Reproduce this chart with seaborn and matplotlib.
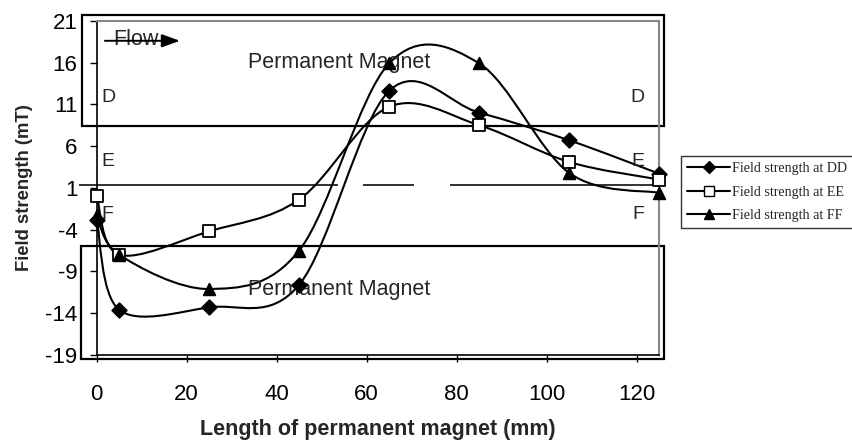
import numpy as np
import pandas as pd
import matplotlib
matplotlib.use("Agg")
import matplotlib.pyplot as plt
import seaborn as sns
from matplotlib.path import Path
from matplotlib.patches import PathPatch, Rectangle
from matplotlib.lines import Line2D

# ----------------------------------------------------------
# Data
# ----------------------------------------------------------
length_mm = [0, 5, 25, 45, 65, 85, 105, 125]
field_dd = [-2.8, -13.6, -13.3, -10.6, 12.6, 10.0, 6.7, 2.7]
field_ee = [0.0, -7.0, -4.2, -0.4, 10.7, 8.5, 4.1, 2.0]
field_ff = [-2.2, -7.0, -11.1, -6.5, 15.9, 15.9, 2.8, 0.4]
series_names = ["Field strength at DD", "Field strength at EE", "Field strength at FF"]

df = pd.DataFrame({
    "length": length_mm * 3,
    "field": field_dd + field_ee + field_ff,
    "series": np.repeat(series_names, len(length_mm)),
})

sns.set_style("white")
plt.rcParams["font.family"] = ["Liberation Sans", "DejaVu Sans"]
plt.rcParams["axes.unicode_minus"] = False

fig = plt.figure(figsize=(8.53, 4.41), dpi=100)
ax = fig.add_axes([0.1134, 0.195, 0.6592, 0.758])


# Excel-style smoothed line: cubic bezier through the points
def smooth_path(xs, ys):
    pts = np.column_stack([xs, ys]).astype(float)
    n = len(pts)
    verts = [pts[0]]
    codes = [Path.MOVETO]
    for i in range(n - 1):
        p0 = pts[max(i - 1, 0)]
        p1 = pts[i]
        p2 = pts[i + 1]
        p3 = pts[min(i + 2, n - 1)]
        c1 = p1 + (p2 - p0) / 6.0
        c2 = p2 - (p3 - p1) / 6.0
        verts += [c1, c2, p2]
        codes += [Path.CURVE4] * 3
    return Path(verts, codes)


for vals in [field_dd, field_ee, field_ff]:
    ax.add_patch(PathPatch(smooth_path(length_mm, vals), facecolor="none",
                           edgecolor="black", lw=1.5, zorder=3))

markers = {series_names[0]: "D", series_names[1]: "s", series_names[2]: "^"}
for name, m in markers.items():
    sub = df[df["series"] == name]
    face = "white" if m == "s" else "black"
    sns.scatterplot(data=sub, x="length", y="field", marker=m, s=70 if m != "D" else 55,
                    color=face, edgecolor="black", linewidth=1.3, ax=ax, zorder=4,
                    clip_on=False, legend=False)

# ----------------------------------------------------------
# Magnet boxes, region line and annotations
# ----------------------------------------------------------
ax.add_patch(Rectangle((-3.3, 8.4), 129.5, 13.3, fill=False, lw=1.6,
                       edgecolor="black", clip_on=False, zorder=2))
ax.add_patch(Rectangle((-3.6, -19.5), 129.8, 13.5, fill=False, lw=1.6,
                       edgecolor="black", clip_on=False, zorder=2))
ax.hlines([1.3, 1.3, 1.3], [-3.9, 59.2, 78.5], [53.6, 70.5, 125],
          colors="#222222", lw=1.3, clip_on=False, zorder=2)

ax.text(33.6, 16.0, "Permanent Magnet", ha="left", va="center", fontsize=15.5)
ax.text(33.6, -11.2, "Permanent Magnet", ha="left", va="center", fontsize=15.5)
for yy, s in [(11.8, "D"), (4.1, "E"), (-2.2, "F")]:
    ax.text(1.0, yy, s, ha="left", va="center", fontsize=14)
    ax.text(121.8, yy, s, ha="right", va="center", fontsize=14)
ax.text(3.6, 18.8, "Flow", ha="left", va="center", fontsize=15.5)
ax.annotate("", xy=(19.1, 18.6), xytext=(1.2, 18.6),
            arrowprops=dict(arrowstyle="-|>,head_length=1.1,head_width=0.4",
                            color="black", lw=1.4))

# ----------------------------------------------------------
# Axes
# ----------------------------------------------------------
ax.set_xlim(0, 125)
ax.set_ylim(-19, 21)
ax.set_xticks([0, 20, 40, 60, 80, 100, 120])
ax.set_yticks(np.arange(-19, 22, 5))
ax.tick_params(axis="both", direction="out", length=5, width=1, labelsize=16,
               left=True, bottom=True, colors="black")
ax.tick_params(axis="y", pad=9)
ax.tick_params(axis="x", pad=16)
ax.set_xlabel("Length of permanent magnet (mm)", fontsize=15.5, fontweight="bold",
              labelpad=10)
ax.set_ylabel("Field strength (mT)", fontsize=13.3, fontweight="bold", labelpad=9)
for side in ["left", "bottom"]:
    ax.spines[side].set_color("black")
    ax.spines[side].set_linewidth(1.2)
for side in ["top", "right"]:
    ax.spines[side].set_color("#888888")
    ax.spines[side].set_linewidth(1.5)

handles = [Line2D([0], [0], color="black", lw=1.5, marker=markers[n],
                  markersize=7.5 if markers[n] != "D" else 6.5,
                  markerfacecolor="white" if markers[n] == "s" else "black",
                  markeredgecolor="black") for n in series_names]
leg = fig.legend(handles, series_names, loc="upper left", bbox_to_anchor=(0.798, 0.647),
                 prop={"family": "Liberation Serif", "size": 10.1}, frameon=True,
                 fancybox=False, edgecolor="black", borderpad=0.45, labelspacing=0.75,
                 handlelength=3.1, handletextpad=0.1, borderaxespad=0)
leg.get_frame().set_linewidth(1.0)

fig.savefig("out.png", dpi=100)
